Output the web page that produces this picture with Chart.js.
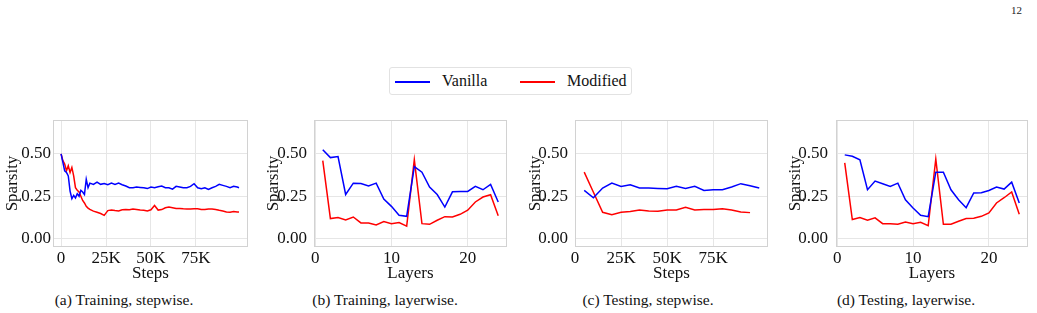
<!DOCTYPE html>
<html lang="en">
<head>
    <meta charset="UTF-8">
    <title>Sparsity - training vs testing</title>
    <script src="https://cdn.jsdelivr.net/npm/chart.js"></script>
    <style>
        body { margin: 0; background: #fff; width: 1037px; height: 313px; position: relative; overflow: hidden; font-family: "Liberation Serif", serif; }
        canvas { position: absolute; }
        .caption { position: absolute; top: 291px; font-size: 15.5px; white-space: nowrap; transform: translateX(-50%); color: #111; }
        .legend { position: absolute; left: 389px; top: 67px; width: 241px; height: 26px; border: 1px solid #e2e2e2; border-radius: 3px; font-size: 16px; color: #111; }
        .legend .line { position: absolute; top: 13px; width: 35px; height: 2px; }
        .legend .txt { position: absolute; top: 4px; }
        .pagenum { position: absolute; left: 1011px; top: 4px; font-size: 11px; color: #222; }
    </style>
</head>
<body>
    <div class="pagenum">12</div>

    <!-- legend shared by the four panels -->
    <div class="legend">
        <span class="line" style="left:5px;background:#0000ff"></span><span class="txt" style="left:52px">Vanilla</span>
        <span class="line" style="left:130px;background:#ff0000"></span><span class="txt" style="left:177px">Modified</span>
    </div>

    <canvas id="chartA" width="254" height="175" style="left:0px;top:110px"></canvas>
    <canvas id="chartB" width="255" height="175" style="left:258px;top:110px"></canvas>
    <canvas id="chartC" width="256" height="175" style="left:518px;top:110px"></canvas>
    <canvas id="chartD" width="256" height="175" style="left:778px;top:110px"></canvas>

    <div class="caption" style="left:124px">(a) Training, stepwise.</div>
    <div class="caption" style="left:385px">(b) Training, layerwise.</div>
    <div class="caption" style="left:648px">(c) Testing, stepwise.</div>
    <div class="caption" style="left:906px">(d) Testing, layerwise.</div>

    <script>
        // ---- data ----
        const seriesNames = ["Vanilla", "Modified"];

        // (a) training, stepwise (steps in thousands)
        const trainSteps = [0, 1, 2, 3, 4, 5, 6, 7, 8, 9, 10, 11, 12, 13, 14, 15, 16,
            18, 20, 22, 24, 26, 28, 30, 32, 34, 36, 38, 40, 42, 44, 46, 48, 50, 52, 54, 56, 58,
            60, 62, 64, 66, 68, 70, 72, 74, 76, 78, 80, 82, 84, 86, 88, 90, 92, 94, 96, 98, 99];
        const trainStepVanilla = [0.50, 0.45, 0.40, 0.39, 0.37, 0.28, 0.235, 0.255, 0.24, 0.265, 0.25, 0.285, 0.275, 0.26, 0.35, 0.30, 0.327,
            0.32, 0.333, 0.32, 0.325, 0.318, 0.327, 0.32, 0.327, 0.318, 0.31, 0.30, 0.30, 0.304, 0.302, 0.30, 0.295, 0.304, 0.30, 0.306, 0.31, 0.30,
            0.30, 0.292, 0.308, 0.304, 0.30, 0.30, 0.308, 0.324, 0.30, 0.294, 0.30, 0.29, 0.30, 0.308, 0.32, 0.314, 0.308, 0.30, 0.308, 0.304, 0.30];
        const trainStepModified = [0.50, 0.46, 0.44, 0.40, 0.43, 0.39, 0.42, 0.37, 0.30, 0.285, 0.275, 0.25, 0.225, 0.21, 0.19, 0.18, 0.172,
            0.162, 0.155, 0.148, 0.137, 0.165, 0.168, 0.165, 0.163, 0.17, 0.172, 0.17, 0.175, 0.172, 0.168, 0.167, 0.163, 0.17, 0.195, 0.168, 0.171, 0.182,
            0.186, 0.182, 0.178, 0.178, 0.176, 0.175, 0.175, 0.176, 0.176, 0.172, 0.171, 0.175, 0.175, 0.172, 0.167, 0.163, 0.157, 0.155, 0.159, 0.156, 0.157];

        // (b) training, layerwise
        const layers = [1, 2, 3, 4, 5, 6, 7, 8, 9, 10, 11, 12, 13, 14, 15, 16, 17, 18, 19, 20, 21, 22, 23, 24];
        const trainLayerVanilla = [0.524, 0.478, 0.484, 0.26, 0.327, 0.325, 0.31, 0.327, 0.233, 0.19, 0.137, 0.131,
            0.425, 0.392, 0.304, 0.26, 0.186, 0.276, 0.278, 0.278, 0.308, 0.288, 0.32, 0.216];
        const trainLayerModified = [0.46, 0.118, 0.124, 0.11, 0.127, 0.092, 0.092, 0.08, 0.10, 0.088, 0.094, 0.073,
            0.465, 0.088, 0.084, 0.108, 0.129, 0.127, 0.143, 0.167, 0.216, 0.245, 0.259, 0.135];

        // (c) testing, stepwise (steps in thousands)
        const testSteps = [5, 10, 15, 20, 25, 30, 35, 40, 45, 50, 55, 60, 65, 70, 75, 80, 85, 90, 95, 100];
        const testStepVanilla = [0.284, 0.241, 0.298, 0.327, 0.308, 0.318, 0.298, 0.298, 0.296, 0.294,
            0.308, 0.296, 0.308, 0.284, 0.288, 0.288, 0.304, 0.324, 0.312, 0.298];
        const testStepModified = [0.392, 0.273, 0.155, 0.141, 0.155, 0.159, 0.169, 0.163, 0.161, 0.169,
            0.169, 0.184, 0.169, 0.171, 0.171, 0.176, 0.169, 0.157, 0.153, null];

        // (d) testing, layerwise
        const testLayerVanilla = [0.494, 0.486, 0.465, 0.288, 0.339, 0.324, 0.308, 0.327, 0.229, 0.18, 0.137, 0.129,
            0.392, 0.392, 0.288, 0.229, 0.182, 0.269, 0.27, 0.284, 0.304, 0.292, 0.333, 0.21];
        const testLayerModified = [0.447, 0.112, 0.124, 0.108, 0.122, 0.088, 0.088, 0.084, 0.098, 0.088, 0.096, 0.076,
            0.47, 0.084, 0.084, 0.102, 0.118, 0.12, 0.131, 0.151, 0.21, 0.241, 0.275, 0.143];

        // ticks
        const sparsityTicks = [0, 0.25, 0.5];
        const stepTicks = [0, 25000, 50000, 75000];
        const stepTickLabels = ["0", "25K", "50K", "75K"];
        const layerTicks = [0, 10, 20];
        const layerTickLabels = ["0", "10", "20"];

        const colors = ["#0000ff", "#ff0000"];

        Chart.defaults.font.family = "'Liberation Serif', 'Times New Roman', serif";
        Chart.defaults.color = "#111";

        // full light-grey frame round the plot area
        const frame = {
            id: "frame",
            beforeDatasetsDraw(chart) {
                const a = chart.chartArea, c = chart.ctx;
                c.save();
                c.strokeStyle = "#d2d2d2";
                c.lineWidth = 1;
                c.strokeRect(a.left + 0.5, a.top + 0.5, a.right - a.left - 1, a.bottom - a.top - 1);
                c.restore();
            }
        };

        function toPoints(xs, ys, scale) {
            return xs.map((x, i) => ({ x: x * scale, y: ys[i] })).filter(p => p.y !== null);
        }

        // keep the plot area fixed: no extra room for overhanging tick labels
        function noOverhang(s) {
            s.paddingTop = 0; s.paddingBottom = 0; s.paddingLeft = 0; s.paddingRight = 0;
        }

        function makePanel(id, opts) {
            const datasets = opts.series.map((ys, i) => ({
                label: seriesNames[i],
                data: toPoints(opts.xs, ys, opts.xScale),
                borderColor: colors[i],
                borderWidth: 1.5,
                pointRadius: 0,
                tension: 0,
                fill: false
            }));
            new Chart(document.getElementById(id), {
                type: "line",
                data: { datasets },
                plugins: [frame],
                options: {
                    responsive: false,
                    animation: false,
                    layout: { padding: { top: 10, right: 6, bottom: 0, left: 0 } },
                    plugins: { legend: { display: false }, tooltip: { enabled: false } },
                    scales: {
                        x: {
                            type: "linear",
                            min: opts.xMin,
                            max: opts.xMax,
                            afterFit: s => { s.height = 38; noOverhang(s); },
                            afterBuildTicks: s => { s.ticks = opts.xTicks.map(v => ({ value: v })); },
                            ticks: {
                                padding: 1,
                                maxRotation: 0,
                                font: { size: 17 },
                                callback: (v) => opts.xLabels[opts.xTicks.indexOf(v)]
                            },
                            grid: { color: "#e6e6e6", drawTicks: false },
                            border: { display: false },
                            title: { display: true, text: opts.xTitle, font: { size: 17 }, padding: { top: 0, bottom: 1 } }
                        },
                        y: {
                            min: -0.05,
                            max: 0.70,
                            afterFit: s => { s.width = opts.yWidth; noOverhang(s); },
                            afterBuildTicks: s => { s.ticks = sparsityTicks.map(v => ({ value: v })); },
                            ticks: {
                                padding: opts.yPad,
                                font: { size: 17 },
                                callback: v => v.toFixed(2)
                            },
                            grid: { color: "#e6e6e6", drawTicks: false },
                            border: { display: false },
                            title: { display: true, text: "Sparsity", font: { size: 17 }, padding: { top: opts.yTitlePad, bottom: 0 } }
                        }
                    }
                }
            });
        }

        makePanel("chartA", {
            xs: trainSteps, xScale: 1000, series: [trainStepVanilla, trainStepModified],
            xMin: -4500, xMax: 104000, xTicks: stepTicks, xLabels: stepTickLabels, xTitle: "Steps",
            yWidth: 53, yPad: 2, yTitlePad: 2.5
        });
        makePanel("chartB", {
            xs: layers, xScale: 1, series: [trainLayerVanilla, trainLayerModified],
            xMin: -0.15, xMax: 25.15, xTicks: layerTicks, xLabels: layerTickLabels, xTitle: "Layers",
            yWidth: 56, yPad: 7, yTitlePad: 5
        });
        makePanel("chartC", {
            xs: testSteps, xScale: 1000, series: [testStepVanilla, testStepModified],
            xMin: 0, xMax: 104750, xTicks: stepTicks, xLabels: stepTickLabels, xTitle: "Steps",
            yWidth: 57, yPad: 7, yTitlePad: 7
        });
        makePanel("chartD", {
            xs: layers, xScale: 1, series: [testLayerVanilla, testLayerModified],
            xMin: -0.15, xMax: 25.15, xTicks: layerTicks, xLabels: layerTickLabels, xTitle: "Layers",
            yWidth: 58, yPad: 8, yTitlePad: 7
        });
    </script>
</body>
</html>
